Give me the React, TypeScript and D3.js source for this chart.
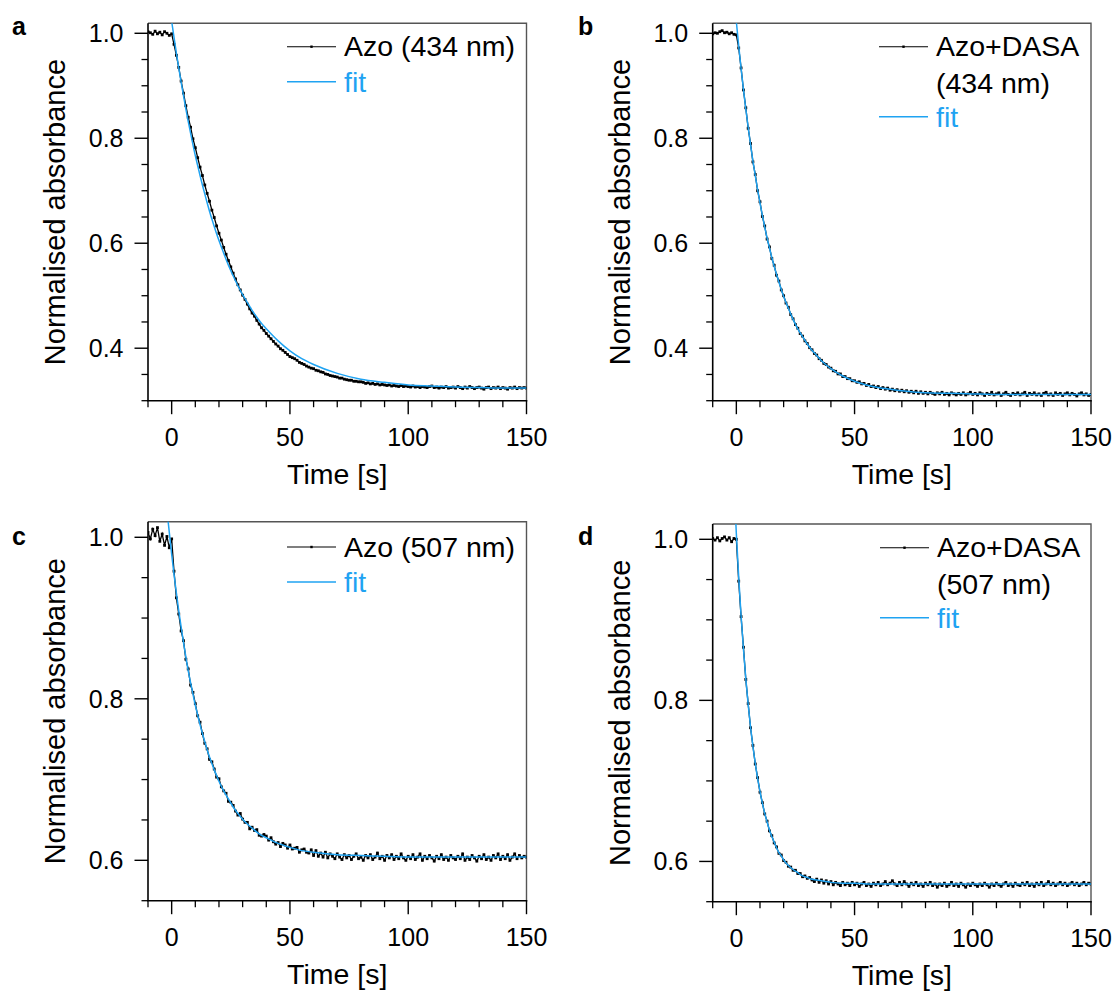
import React from 'react';
import * as d3 from 'd3';

// ---------- data (sample times -10 .. 150 s, 1 s step) ----------
const TIME_START = -10;
const TIME_END = 150;
const TIMES = d3.range(TIME_START, TIME_END + 1, 1);

const AZO_434 = [
  1.003, 1.001, 0.998, 1.004, 0.999, 1.002, 0.997, 1.003, 1.000, 0.996,
  0.999, 0.979, 0.958, 0.935, 0.909, 0.886, 0.862, 0.840, 0.821, 0.799,
  0.782, 0.763, 0.745, 0.729, 0.711, 0.695, 0.680, 0.663, 0.649, 0.633,
  0.619, 0.606, 0.592, 0.579, 0.567, 0.555, 0.543, 0.532, 0.521, 0.511,
  0.501, 0.493, 0.484, 0.475, 0.467, 0.461, 0.453, 0.446, 0.439, 0.434,
  0.428, 0.423, 0.418, 0.413, 0.408, 0.404, 0.399, 0.396, 0.392, 0.388,
  0.384, 0.382, 0.380, 0.377, 0.373, 0.371, 0.369, 0.366, 0.364, 0.362,
  0.361, 0.358, 0.357, 0.355, 0.354, 0.351, 0.350, 0.348, 0.347, 0.346,
  0.345, 0.343, 0.343, 0.341, 0.340, 0.339, 0.339, 0.337, 0.337, 0.336,
  0.336, 0.335, 0.333, 0.334, 0.332, 0.333, 0.331, 0.332, 0.330, 0.331,
  0.330, 0.329, 0.330, 0.328, 0.329, 0.328, 0.327, 0.329, 0.327, 0.328,
  0.327, 0.326, 0.328, 0.326, 0.327, 0.325, 0.327, 0.326, 0.325, 0.327,
  0.328, 0.325, 0.326, 0.324, 0.326, 0.325, 0.327, 0.324, 0.325, 0.326,
  0.324, 0.327, 0.325, 0.323, 0.326, 0.324, 0.327, 0.325, 0.323, 0.325,
  0.326, 0.324, 0.322, 0.325, 0.326, 0.323, 0.325, 0.324, 0.326, 0.323,
  0.325, 0.324, 0.322, 0.325, 0.324, 0.326, 0.323, 0.325, 0.324, 0.325,
  0.324,
];

const AZO_DASA_434 = [
  0.999, 1.001, 1.000, 1.003, 1.005, 1.001, 1.002, 0.999, 1.001, 0.998,
  0.997, 0.972, 0.934, 0.892, 0.858, 0.819, 0.790, 0.755, 0.731, 0.700,
  0.679, 0.651, 0.633, 0.608, 0.593, 0.571, 0.558, 0.539, 0.528, 0.511,
  0.500, 0.486, 0.478, 0.464, 0.456, 0.445, 0.438, 0.428, 0.423, 0.414,
  0.409, 0.401, 0.397, 0.390, 0.387, 0.380, 0.377, 0.371, 0.369, 0.364,
  0.362, 0.357, 0.356, 0.351, 0.351, 0.346, 0.346, 0.342, 0.342, 0.338,
  0.338, 0.335, 0.336, 0.332, 0.333, 0.329, 0.331, 0.327, 0.328, 0.325,
  0.327, 0.323, 0.325, 0.322, 0.324, 0.320, 0.322, 0.319, 0.321, 0.318,
  0.320, 0.317, 0.319, 0.316, 0.318, 0.315, 0.318, 0.314, 0.317, 0.314,
  0.316, 0.313, 0.316, 0.314, 0.312, 0.315, 0.313, 0.316, 0.312, 0.314,
  0.311, 0.315, 0.313, 0.311, 0.314, 0.312, 0.315, 0.311, 0.313, 0.316,
  0.312, 0.314, 0.311, 0.315, 0.313, 0.310, 0.314, 0.312, 0.316, 0.311,
  0.313, 0.315, 0.310, 0.313, 0.316, 0.312, 0.310, 0.314, 0.312, 0.315,
  0.311, 0.313, 0.316, 0.310, 0.314, 0.312, 0.315, 0.311, 0.313, 0.310,
  0.314, 0.316, 0.311, 0.313, 0.310, 0.315, 0.312, 0.314, 0.310, 0.313,
  0.315, 0.311, 0.314, 0.312, 0.309, 0.313, 0.315, 0.311, 0.313, 0.310,
  0.312,
];

const AZO_507 = [
  1.006, 0.998, 1.010, 1.002, 1.012, 0.995, 1.004, 0.990, 1.001, 0.987,
  0.998, 0.958, 0.925, 0.905, 0.884, 0.872, 0.849, 0.837, 0.817, 0.808,
  0.794, 0.779, 0.771, 0.757, 0.745, 0.738, 0.725, 0.722, 0.713, 0.703,
  0.701, 0.691, 0.686, 0.683, 0.673, 0.672, 0.668, 0.661, 0.656, 0.658,
  0.651, 0.647, 0.647, 0.639, 0.641, 0.637, 0.638, 0.631, 0.630, 0.632,
  0.630, 0.625, 0.628, 0.623, 0.620, 0.622, 0.617, 0.621, 0.619, 0.615,
  0.619, 0.614, 0.615, 0.616, 0.610, 0.613, 0.614, 0.610, 0.609, 0.613,
  0.606, 0.612, 0.605, 0.609, 0.604, 0.610, 0.603, 0.608, 0.605, 0.602,
  0.608, 0.604, 0.601, 0.607, 0.603, 0.606, 0.601, 0.605, 0.608, 0.602,
  0.604, 0.600, 0.606, 0.603, 0.607, 0.601, 0.604, 0.609, 0.602, 0.605,
  0.600, 0.606, 0.603, 0.607, 0.601, 0.605, 0.602, 0.608, 0.603, 0.600,
  0.605, 0.602, 0.607, 0.601, 0.604, 0.608, 0.600, 0.605, 0.602, 0.606,
  0.603, 0.599, 0.605, 0.602, 0.607, 0.601, 0.604, 0.600, 0.606, 0.603,
  0.601, 0.605, 0.602, 0.608, 0.600, 0.604, 0.601, 0.606, 0.603, 0.599,
  0.605, 0.602, 0.607, 0.601, 0.604, 0.600, 0.606, 0.603, 0.608, 0.601,
  0.605, 0.602, 0.607, 0.600, 0.604, 0.608, 0.602, 0.606, 0.603, 0.605,
  0.604,
];

const AZO_DASA_507 = [
  1.001, 0.999, 1.002, 0.998, 1.001, 1.003, 0.999, 1.002, 0.997, 1.001,
  1.000, 0.948, 0.904, 0.866, 0.826, 0.796, 0.766, 0.744, 0.721, 0.704,
  0.686, 0.673, 0.659, 0.650, 0.638, 0.632, 0.623, 0.618, 0.610, 0.608,
  0.601, 0.599, 0.594, 0.593, 0.589, 0.589, 0.585, 0.585, 0.581, 0.582,
  0.579, 0.580, 0.577, 0.575, 0.578, 0.574, 0.577, 0.573, 0.576, 0.572,
  0.575, 0.571, 0.574, 0.572, 0.570, 0.574, 0.571, 0.573, 0.570, 0.574,
  0.571, 0.573, 0.569, 0.572, 0.574, 0.570, 0.572, 0.569, 0.573, 0.571,
  0.574, 0.570, 0.572, 0.575, 0.571, 0.573, 0.576, 0.572, 0.570, 0.574,
  0.571, 0.575, 0.572, 0.569, 0.573, 0.571, 0.574, 0.570, 0.572, 0.569,
  0.573, 0.571, 0.574, 0.570, 0.572, 0.568, 0.572, 0.570, 0.573, 0.569,
  0.571, 0.574, 0.570, 0.572, 0.569, 0.573, 0.571, 0.568, 0.572, 0.570,
  0.573, 0.571, 0.569, 0.572, 0.570, 0.573, 0.571, 0.568, 0.572, 0.570,
  0.573, 0.571, 0.569, 0.572, 0.574, 0.570, 0.572, 0.569, 0.573, 0.571,
  0.570, 0.573, 0.571, 0.574, 0.570, 0.572, 0.569, 0.573, 0.571, 0.574,
  0.570, 0.572, 0.575, 0.571, 0.573, 0.570, 0.572, 0.574, 0.571, 0.573,
  0.570, 0.572, 0.574, 0.571, 0.573, 0.570, 0.572, 0.574, 0.571, 0.573,
  0.572,
];

// fitted curves, sampled at these times
const FIT_TIMES = [
  -2, -1, 0, 1, 2, 3, 4, 5, 6, 7, 8, 9, 10, 11, 12, 13, 14, 15, 16, 17, 18, 19, 20,
  22, 24, 26, 28, 30, 32, 34, 36, 38, 40, 45, 50, 55, 60, 70, 80, 90, 100, 110, 120,
  130, 140, 150,
];
const FIT_A = [
  1.090, 1.056, 1.023, 0.992, 0.962, 0.934, 0.907, 0.881, 0.856, 0.832, 0.810, 0.788,
  0.767, 0.748, 0.729, 0.711, 0.694, 0.677, 0.661, 0.646, 0.632, 0.618, 0.605,
  0.581, 0.558, 0.538, 0.519, 0.502, 0.487, 0.472, 0.459, 0.447, 0.437,
  0.414, 0.395, 0.380, 0.369, 0.352, 0.341, 0.335, 0.330, 0.328, 0.326, 0.325, 0.324, 0.324,
];
const FIT_B = [
  1.123, 1.071, 1.022, 0.976, 0.933, 0.893, 0.856, 0.821, 0.788, 0.757, 0.729, 0.702,
  0.677, 0.653, 0.631, 0.610, 0.591, 0.573, 0.556, 0.541, 0.526, 0.512, 0.499,
  0.476, 0.455, 0.437, 0.422, 0.408, 0.396, 0.386, 0.376, 0.368, 0.361,
  0.347, 0.337, 0.330, 0.325, 0.319, 0.315, 0.314, 0.313, 0.312, 0.312, 0.312, 0.312, 0.312,
];
const FIT_C = [
  1.034, 1.006, 0.979, 0.954, 0.931, 0.909, 0.889, 0.870, 0.852, 0.835, 0.820, 0.806,
  0.792, 0.780, 0.768, 0.757, 0.747, 0.737, 0.728, 0.720, 0.712, 0.705, 0.698,
  0.686, 0.676, 0.666, 0.658, 0.651, 0.645, 0.640, 0.635, 0.631, 0.628,
  0.621, 0.616, 0.612, 0.610, 0.607, 0.606, 0.605, 0.604, 0.604, 0.604, 0.604, 0.604, 0.604,
];
const FIT_D = [
  1.140, 1.069, 1.007, 0.953, 0.905, 0.864, 0.827, 0.795, 0.767, 0.743, 0.722, 0.703,
  0.687, 0.672, 0.660, 0.649, 0.639, 0.631, 0.624, 0.617, 0.611, 0.607, 0.602,
  0.595, 0.590, 0.586, 0.582, 0.580, 0.578, 0.577, 0.576, 0.575, 0.574,
  0.573, 0.573, 0.572, 0.572, 0.572, 0.572, 0.572, 0.572, 0.572, 0.572, 0.572, 0.572, 0.572,
];

// ticks & labels
const X_DOMAIN = [-10, 150];
const X_TICKS = [0, 50, 100, 150];
const X_MINOR = [-10, 10, 20, 30, 40, 60, 70, 80, 90, 110, 120, 130, 140];
const Y_TICKS_TOP = [0.4, 0.6, 0.8, 1.0];
const Y_MINOR_TOP = [0.3, 0.35, 0.45, 0.5, 0.55, 0.65, 0.7, 0.75, 0.85, 0.9, 0.95];
const Y_TICKS_BOTTOM = [0.6, 0.8, 1.0];
const Y_MINOR_BOTTOM = [0.55, 0.65, 0.7, 0.75, 0.85, 0.9, 0.95];
const X_TITLE = 'Time [s]';
const Y_TITLE = 'Normalised absorbance';
const FIT_LABEL = 'fit';

// ---------- layout ----------
const FONT = '"Liberation Sans", Arial, Helvetica, sans-serif';
const FIT_COLOR = '#1fa3f2';

type Panel = {
  id: string;
  data: number[];
  fit: number[];
  legend: string[];
  yDomain: [number, number];
  yTicks: number[];
  yMinor: number[];
  left: number;
  right: number;
  top: number;
  bottom: number;
  legX: number;
  legY: number;
  labelX: number;
  labelY: number;
};

const PANELS: Panel[] = [
  {
    id: 'a', data: AZO_434, fit: FIT_A, legend: ['Azo (434 nm)'],
    yDomain: [0.3, 1.019], yTicks: Y_TICKS_TOP, yMinor: Y_MINOR_TOP,
    left: 148, right: 526.5, top: 23.3, bottom: 400.7,
    legX: 287, legY: 46.7, labelX: 12, labelY: 35,
  },
  {
    id: 'b', data: AZO_DASA_434, fit: FIT_B, legend: ['Azo+DASA', '(434 nm)'],
    yDomain: [0.3, 1.019], yTicks: Y_TICKS_TOP, yMinor: Y_MINOR_TOP,
    left: 712.7, right: 1091, top: 23.3, bottom: 400.7,
    legX: 879, legY: 46.7, labelX: 578, labelY: 35,
  },
  {
    id: 'c', data: AZO_507, fit: FIT_C, legend: ['Azo (507 nm)'],
    yDomain: [0.55, 1.0193], yTicks: Y_TICKS_BOTTOM, yMinor: Y_MINOR_BOTTOM,
    left: 148, right: 526.5, top: 521.7, bottom: 900.7,
    legX: 287, legY: 547, labelX: 12, labelY: 545,
  },
  {
    id: 'd', data: AZO_DASA_507, fit: FIT_D, legend: ['Azo+DASA', '(507 nm)'],
    yDomain: [0.55, 1.019], yTicks: Y_TICKS_BOTTOM, yMinor: Y_MINOR_BOTTOM,
    left: 712.7, right: 1091, top: 524, bottom: 901.7,
    legX: 880, legY: 547.7, labelX: 578, labelY: 545,
  },
];

const MAJOR = 13.5;
const MINOR = 6.5;
const MARK = 2.8;

function PanelView({ p }: { p: Panel }) {
  const x = d3.scaleLinear().domain(X_DOMAIN).range([p.left, p.right]);
  const y = d3.scaleLinear().domain(p.yDomain).range([p.bottom, p.top]);
  const pts: [number, number][] = TIMES.map((t, i) => [t, p.data[i]]);
  const fitPts: [number, number][] = FIT_TIMES.map((t, i) => [t, p.fit[i]]);
  const dataLine = d3.line<[number, number]>().x((d) => x(d[0])).y((d) => y(d[1]));
  const fitLine = d3
    .line<[number, number]>()
    .x((d) => x(d[0]))
    .y((d) => y(d[1]))
    .curve(d3.curveMonotoneX);
  const clipId = `clip-${p.id}`;
  const cx = (p.left + p.right) / 2;
  const cy = (p.top + p.bottom) / 2;
  const textX = p.legX + 57;
  const fitY = p.legY + 35 * p.legend.length;
  return (
    <g>
      <defs>
        <clipPath id={clipId}>
          <rect x={p.left} y={p.top} width={p.right - p.left} height={p.bottom - p.top} />
        </clipPath>
      </defs>
      {/* frame top/right */}
      <path
        d={`M${p.left},${p.top}H${p.right}V${p.bottom}`}
        fill="none"
        stroke="#555"
        strokeWidth={1.4}
      />
      {/* data */}
      <g clipPath={`url(#${clipId})`}>
        <path d={dataLine(pts) || ''} fill="none" stroke="#000" strokeWidth={1.3} />
        {pts.map((d, i) => (
          <rect
            key={i}
            x={x(d[0]) - MARK / 2}
            y={y(d[1]) - MARK / 2}
            width={MARK}
            height={MARK}
            fill="#000"
          />
        ))}
        <path d={fitLine(fitPts) || ''} fill="none" stroke={FIT_COLOR} strokeWidth={1.5} />
      </g>
      {/* axes */}
      <line x1={p.left} x2={p.left} y1={p.top} y2={p.bottom} stroke="#000" strokeWidth={1.6} />
      <line x1={p.left - 0.8} x2={p.right + 0.8} y1={p.bottom} y2={p.bottom} stroke="#000" strokeWidth={1.6} />
      {X_TICKS.map((t) => (
        <g key={`xt${t}`}>
          <line x1={x(t)} x2={x(t)} y1={p.bottom} y2={p.bottom + MAJOR} stroke="#000" strokeWidth={1.4} />
          <text
            x={x(t)}
            y={p.bottom + 45}
            textAnchor="middle"
            fontSize={25}
            fontFamily={FONT}
            fill="#000"
          >
            {t}
          </text>
        </g>
      ))}
      {X_MINOR.map((t) => (
        <line key={`xm${t}`} x1={x(t)} x2={x(t)} y1={p.bottom} y2={p.bottom + MINOR} stroke="#000" strokeWidth={1.3} />
      ))}
      {p.yTicks.map((v) => (
        <g key={`yt${v}`}>
          <line x1={p.left - MAJOR} x2={p.left} y1={y(v)} y2={y(v)} stroke="#000" strokeWidth={1.4} />
          <text
            x={p.left - 24.5}
            y={y(v)}
            dy="0.36em"
            textAnchor="end"
            fontSize={25}
            fontFamily={FONT}
            fill="#000"
          >
            {v.toFixed(1)}
          </text>
        </g>
      ))}
      {p.yMinor.map((v) => (
        <line key={`ym${v}`} x1={p.left - MINOR} x2={p.left} y1={y(v)} y2={y(v)} stroke="#000" strokeWidth={1.3} />
      ))}
      {/* titles */}
      <text x={cx} y={p.bottom + 83.6} textAnchor="middle" fontSize={28.5} fontFamily={FONT} fill="#000">
        {X_TITLE}
      </text>
      <text
        transform={`translate(${p.left - 83},${cy}) rotate(-90)`}
        textAnchor="middle"
        fontSize={29}
        fontFamily={FONT}
        fill="#000"
      >
        {Y_TITLE}
      </text>
      {/* panel label */}
      <text x={p.labelX} y={p.labelY} fontSize={25} fontWeight="bold" fontFamily={FONT} fill="#000">
        {p.id}
      </text>
      {/* legend */}
      <line x1={p.legX} x2={p.legX + 49} y1={p.legY} y2={p.legY} stroke="#000" strokeWidth={1.1} />
      <rect x={p.legX + 24.5 - 1.2} y={p.legY - 1.2} width={2.4} height={2.4} fill="#000" />
      {p.legend.map((s, i) => (
        <text
          key={i}
          x={textX}
          y={p.legY + 9.5 + i * 37}
          fontSize={28.5}
          fontFamily={FONT}
          fill="#000"
        >
          {s}
        </text>
      ))}
      <line x1={p.legX} x2={p.legX + 49} y1={fitY} y2={fitY} stroke={FIT_COLOR} strokeWidth={1.5} />
      <text x={textX} y={fitY + 10} fontSize={28.5} fontFamily={FONT} fill={FIT_COLOR}>
        {FIT_LABEL}
      </text>
    </g>
  );
}

export default function App() {
  return (
    <svg
      width={1118}
      height={992}
      viewBox="0 0 1118 992"
      style={{ position: 'absolute', left: 0, top: 0, background: '#fff' }}
    >
      <rect x={0} y={0} width={1118} height={992} fill="#fff" />
      {PANELS.map((p) => (
        <PanelView key={p.id} p={p} />
      ))}
    </svg>
  );
}
